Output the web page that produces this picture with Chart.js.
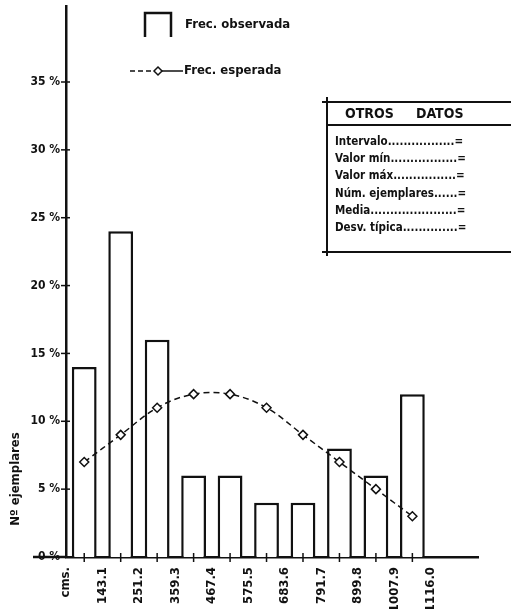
<!DOCTYPE html>
<html>
<head>
<meta charset="utf-8">
<script src="https://cdn.jsdelivr.net/npm/chart.js@4"></script>
<style>
  html, body { margin: 0; padding: 0; background: #fff; }
  #wrap { width: 511px; height: 609px; }
</style>
</head>
<body>
<div id="wrap"><canvas id="chart" width="511" height="609"></canvas></div>
<script>
// class limits (cms.)
const limits = ['cms.', '143.1', '251.2', '359.3', '467.4', '575.5', '683.6', '791.7', '899.8', '1007.9', '1116.0'];
// % of specimens per class
const observed = [14, 24, 16, 6, 6, 4, 4, 8, 6, 12];
const expected = [7, 9, 11, 12, 12, 11, 9, 7, 5, 3];
const yTicks = [0, 5, 10, 15, 20, 25, 30, 35];
const otherData = ['Intervalo', 'Valor mín', 'Valor máx', 'Núm. ejemplares', 'Media', 'Desv. típica'];

const INK = '#111';
const FONT = "'Liberation Sans Narrow', 'DejaVu Sans Condensed', 'Liberation Sans', sans-serif";

// bars sit in the middle of each class
const barPoints = observed.map((v, i) => ({ x: i + 0.5, y: v }));
const linePoints = expected.map((v, i) => ({ x: i + 0.5, y: v }));

const decorations = {
  id: 'decorations',
  afterDraw(chart) {
    const ctx = chart.ctx;
    const area = chart.chartArea;
    const xs = chart.scales.x;
    const ys = chart.scales.y;
    ctx.save();
    ctx.strokeStyle = INK;
    ctx.fillStyle = INK;
    ctx.lineCap = 'butt';

    // baseline runs a bit left of the y axis
    ctx.lineWidth = 2.5;
    ctx.beginPath();
    ctx.moveTo(area.left - 33, area.bottom);
    ctx.lineTo(area.left, area.bottom);
    ctx.stroke();

    // little crosses on the x axis at class centres
    ctx.lineWidth = 1.5;
    observed.forEach((_, i) => {
      const px = xs.getPixelForValue(i + 0.5);
      ctx.beginPath();
      ctx.moveTo(px, area.bottom - 4);
      ctx.lineTo(px, area.bottom + 5);
      ctx.stroke();
    });

    // crosses on the y axis
    yTicks.forEach(v => {
      const py = ys.getPixelForValue(v);
      ctx.beginPath();
      ctx.moveTo(area.left - 5, py);
      ctx.lineTo(area.left + 4, py);
      ctx.stroke();
    });

    // y title
    ctx.save();
    ctx.translate(16, area.bottom - 78);
    ctx.rotate(-Math.PI / 2);
    ctx.textAlign = 'center';
    ctx.textBaseline = 'middle';
    ctx.font = 'bold 13px ' + FONT;
    ctx.fillText('Nº ejemplares', 0, 0);
    ctx.restore();

    // legend
    ctx.lineWidth = 2.5;
    ctx.beginPath();
    ctx.moveTo(145, 37);
    ctx.lineTo(145, 13);
    ctx.lineTo(171, 13);
    ctx.lineTo(171, 37);
    ctx.stroke();
    ctx.font = 'bold 13px ' + FONT;
    ctx.textAlign = 'left';
    ctx.textBaseline = 'middle';
    ctx.fillText('Frec. observada', 185, 25);

    ctx.lineWidth = 1.5;
    ctx.setLineDash([5, 3]);
    ctx.beginPath();
    ctx.moveTo(130, 71);
    ctx.lineTo(154, 71);
    ctx.stroke();
    ctx.setLineDash([]);
    ctx.beginPath();
    ctx.moveTo(162, 71);
    ctx.lineTo(183, 71);
    ctx.stroke();
    ctx.beginPath();
    ctx.moveTo(158, 67);
    ctx.lineTo(162, 71);
    ctx.lineTo(158, 75);
    ctx.lineTo(154, 71);
    ctx.closePath();
    ctx.fillStyle = '#fff';
    ctx.fill();
    ctx.stroke();
    ctx.fillStyle = INK;
    ctx.fillText('Frec. esperada', 184, 71);

    // "otros datos" box
    ctx.lineWidth = 2;
    ctx.beginPath();
    ctx.moveTo(322, 102); ctx.lineTo(511, 102);
    ctx.moveTo(327, 97); ctx.lineTo(327, 256);
    ctx.moveTo(327, 125); ctx.lineTo(511, 125);
    ctx.moveTo(322, 252); ctx.lineTo(511, 252);
    ctx.stroke();
    ctx.font = 'bold 14px ' + FONT;
    ctx.fillText('OTROS', 345, 114);
    ctx.fillText('DATOS', 416, 114);

    ctx.font = 'bold 11.5px ' + FONT;
    otherData.forEach((label, i) => {
      let txt = label;
      while (ctx.measureText(txt + '.=').width < 132) txt += '.';
      ctx.fillText(txt + '=', 335, 142 + i * 17.2);
    });

    ctx.restore();
  }
};

new Chart(document.getElementById('chart'), {
  type: 'bar',
  data: {
    datasets: [
      {
        type: 'line',
        label: 'Frec. esperada',
        data: linePoints,
        order: 0,
        borderColor: INK,
        borderWidth: 1.5,
        borderDash: [6, 4],
        tension: 0.35,
        pointStyle: 'rectRot',
        pointRadius: 4.5,
        pointBackgroundColor: '#fff',
        pointBorderColor: INK,
        pointBorderWidth: 1.5,
      },
      {
        label: 'Frec. observada',
        data: barPoints,
        order: 1,
        backgroundColor: '#fff',
        borderColor: INK,
        borderWidth: { top: 2.5, left: 2.5, right: 2.5, bottom: 0 },
        borderSkipped: 'bottom',
        barPercentage: 0.68,
        categoryPercentage: 1,
      },
    ],
  },
  options: {
    responsive: false,
    animation: false,
    devicePixelRatio: 1,
    layout: { padding: { top: 5, right: 33, left: 0, bottom: 0 } },
    plugins: {
      legend: { display: false },
      tooltip: { enabled: false },
    },
    scales: {
      x: {
        type: 'linear',
        offset: false,
        min: 0,
        max: 11.3,
        afterBuildTicks(scale) {
          scale.ticks = limits.map((_, i) => ({ value: i }));
        },
        afterFit(scale) {
          scale.height = 52;
          scale.paddingLeft = 0;
          scale.paddingRight = 0;
        },
        grid: { display: false, drawTicks: false },
        border: { display: true, color: INK, width: 2.5 },
        ticks: {
          autoSkip: false,
          minRotation: 90,
          maxRotation: 90,
          padding: 10,
          color: INK,
          font: { family: FONT, size: 13, weight: 'bold' },
          callback: (v) => limits[v] ?? '',
        },
      },
      y: {
        min: 0,
        max: 40.6,
        afterBuildTicks(scale) {
          scale.ticks = yTicks.map(v => ({ value: v }));
        },
        afterFit(scale) {
          scale.width = 66;
          scale.paddingTop = 0;
          scale.paddingBottom = 0;
        },
        grid: { display: false, drawTicks: false },
        border: { display: true, color: INK, width: 2.5 },
        ticks: {
          padding: 6,
          color: INK,
          font: { family: FONT, size: 12, weight: 'bold' },
          callback: (v) => v + ' %',
        },
      },
    },
  },
  plugins: [decorations],
});
</script>
</body>
</html>
